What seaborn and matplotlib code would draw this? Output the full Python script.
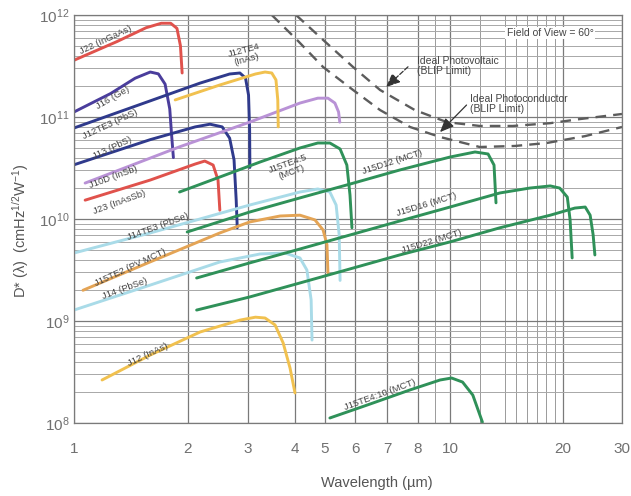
import numpy as np
import pandas as pd
import matplotlib
matplotlib.use("Agg")
import matplotlib.pyplot as plt
import seaborn as sns
from matplotlib.ticker import FixedLocator, FixedFormatter, LogLocator, NullFormatter

# ---------------- data ----------------
j22_wl = [1.0, 1.3, 1.55, 1.7, 1.8, 1.87, 1.91, 1.93]
j22_d = [3.6e11, 5.5e11, 7.5e11, 8.3e11, 8.3e11, 7.4e11, 5.0e11, 2.7e11]

j16_wl = [1.0, 1.25, 1.45, 1.59, 1.67, 1.74, 1.79, 1.81, 1.83]
j16_d = [1.12e11, 1.7e11, 2.4e11, 2.76e11, 2.65e11, 2.1e11, 1.2e11, 6.7e10, 4.0e10]

j12te3_wl = [1.0, 1.59, 2.17, 2.65, 2.84, 2.95, 3.01, 3.03, 3.035]
j12te3_d = [7.8e10, 1.44e11, 2.15e11, 2.64e11, 2.7e11, 2.41e11, 1.64e11, 7.5e10, 3.2e10]

j13_wl = [1.0, 1.59, 2.10, 2.32, 2.52, 2.65, 2.73, 2.77, 2.79]
j13_d = [3.4e10, 6.0e10, 8.0e10, 8.5e10, 8.0e10, 6.2e10, 3.8e10, 1.53e10, 8.2e9]

j10d_wl = [1.07, 1.90, 3.03, 4.15, 4.74, 5.09, 5.31, 5.43, 5.47]
j10d_d = [2.25e10, 5.1e10, 8.9e10, 1.37e11, 1.53e11, 1.53e11, 1.37e11, 1.12e11, 8.9e10]

j23_wl = [1.07, 1.59, 2.10, 2.24, 2.37, 2.45, 2.48]
j23_d = [1.53e10, 2.41e10, 3.46e10, 3.7e10, 3.38e10, 2.41e10, 1.22e10]

j12te4_wl = [1.85, 2.48, 3.14, 3.33, 3.47, 3.56, 3.60, 3.61]
j12te4_d = [1.47e11, 2.06e11, 2.64e11, 2.76e11, 2.7e11, 2.31e11, 1.47e11, 8.0e10]

j14te3_wl = [1.0, 1.59, 3.03, 4.15, 4.74, 5.15, 5.35, 5.45, 5.48]
j14te3_d = [4.64e9, 7.3e9, 1.37e10, 1.84e10, 1.97e10, 1.84e10, 1.37e10, 7.0e9, 2.5e9]

j15te2_wl = [1.056, 1.59, 2.48, 3.03, 3.65, 4.15, 4.64, 4.93, 5.06, 5.09]
j15te2_d = [2.0e9, 3.8e9, 7.3e9, 9.35e9, 1.07e10, 1.09e10, 9.8e9, 7.8e9, 5.6e9, 2.96e9]

j14_wl = [1.0, 1.59, 2.48, 3.23, 3.76, 4.15, 4.37, 4.51, 4.54]
j14_d = [1.28e9, 2.25e9, 3.79e9, 4.54e9, 4.64e9, 4.15e9, 3.16e9, 1.61e9, 6.5e8]

j12_wl = [1.186, 1.59, 2.17, 2.84, 3.14, 3.33, 3.54, 3.72, 3.88, 4.0]
j12_d = [2.64e8, 4.64e8, 7.8e8, 1.02e9, 1.09e9, 1.07e9, 9.15e8, 6.1e8, 3.46e8, 1.97e8]

j15te4_5_wl = [1.90, 2.48, 3.23, 4.15, 4.74, 5.15, 5.48, 5.71, 5.82, 5.89]
j15te4_5_d = [1.84e10, 2.58e10, 3.62e10, 4.97e10, 5.56e10, 5.56e10, 4.86e10, 3.38e10, 1.72e10, 8.2e9]

j15d12_wl = [1.99, 3.03, 4.15, 5.82, 7.39, 10.0, 11.66, 12.63, 13.1, 13.26]
j15d12_d = [7.46e9, 1.17e10, 1.61e10, 2.2e10, 3.02e10, 4.05e10, 4.54e10, 4.34e10, 3.38e10, 1.44e10]

j15d16_wl = [2.12, 3.03, 4.15, 5.82, 7.39, 10.0, 13.58, 16.3, 18.5, 19.6, 20.6, 21.0, 21.3]
j15d16_d = [2.64e9, 3.71e9, 5.08e9, 6.97e9, 9.55e9, 1.31e10, 1.8e10, 2.01e10, 2.11e10, 2.01e10, 1.64e10, 9.8e9, 4.15e9]

j15d22_wl = [2.12, 3.03, 4.15, 5.82, 7.39, 10.0, 13.58, 18.5, 21.7, 23.3, 24.1, 24.6, 24.9]
j15d22_d = [1.28e9, 1.72e9, 2.36e9, 3.24e9, 4.44e9, 5.96e9, 8.2e9, 1.09e10, 1.28e10, 1.31e10, 1.09e10, 7.0e9, 4.44e9]

j15te4_10_wl = [5.15, 6.44, 7.73, 9.33, 10.1, 10.8, 11.5, 12.2]
j15te4_10_d = [1.12e8, 1.53e8, 2.11e8, 2.64e8, 2.76e8, 2.52e8, 1.88e8, 1.02e8]

blip_pv_wl = [4.03, 4.93, 5.93, 6.77, 7.89, 9.79, 12.0, 14.7, 18.5, 22.5, 30.0]
blip_pv_d = [1.0e12, 5.7e11, 3.09e11, 1.84e11, 1.17e11, 8.9e10, 8.17e10, 8.17e10, 8.7e10, 9.55e10, 1.07e11]

blip_pc_wl = [3.47, 4.06, 4.93, 5.93, 6.77, 7.73, 9.33, 12.0, 14.9, 18.1, 23.3, 30.0]
blip_pc_d = [1.0e12, 5.7e11, 3.09e11, 1.84e11, 1.17e11, 7.98e10, 6.37e10, 5.08e10, 5.2e10, 5.56e10, 6.5e10, 7.98e10]

x_ticks = [1, 2, 3, 4, 5, 6, 7, 8, 10, 20, 30]
x_tick_labels = ["1", "2", "3", "4", "5", "6", "7", "8", "10", "20", "30"]
x_minor_grid = [9, 12, 14, 15, 16, 17, 18, 19]

# ---------------- styling ----------------
RED = "#e0524c"
VIOLET = "#4a3d9c"
NAVY = "#2f3a8c"
PURPLE = "#b992d6"
YELLOW = "#f1c14f"
ORANGE = "#e4a455"
LBLUE = "#a9dbe8"
GREEN = "#2f9159"
DASH = "#5c5c5c"
TXT = "#444444"

sns.set_theme(style="white")
plt.rcParams["font.family"] = ["Liberation Sans", "DejaVu Sans"]
plt.rcParams["mathtext.fontset"] = "custom"
plt.rcParams["mathtext.rm"] = "Liberation Sans"
plt.rcParams["mathtext.it"] = "Liberation Sans:italic"
plt.rcParams["mathtext.default"] = "rm"

# the printed wavelength axis is a slightly warped logarithmic axis
_kw = np.log10(np.array(x_ticks, float))
_kp = np.array([0, 114, 174, 221, 251, 281, 313, 344, 376, 489, 548], float)


def _fwd(x):
    lx = np.log10(np.clip(np.asarray(x, float), 1e-6, None))
    out = np.interp(lx, _kw, _kp)
    out = np.where(lx < _kw[0], _kp[0] + (lx - _kw[0]) * 375.0, out)
    out = np.where(lx > _kw[-1], _kp[-1] + (lx - _kw[-1]) * 335.0, out)
    return out


def _inv(p):
    p = np.asarray(p, float)
    lx = np.interp(p, _kp, _kw)
    lx = np.where(p < _kp[0], _kw[0] + (p - _kp[0]) / 375.0, lx)
    lx = np.where(p > _kp[-1], _kw[-1] + (p - _kp[-1]) / 335.0, lx)
    return 10 ** lx


fig = plt.figure(figsize=(6.31, 4.96), dpi=100)
ax = fig.add_axes([74 / 631, (496 - 423) / 496, 548 / 631, 408 / 496])
ax.set_xscale("function", functions=(_fwd, _inv))
ax.set_yscale("log")
ax.set_xlim(1, 30)
ax.set_ylim(1e8, 1e12)

ax.xaxis.set_major_locator(FixedLocator(x_ticks))
ax.xaxis.set_major_formatter(FixedFormatter(x_tick_labels))
ax.xaxis.set_minor_locator(FixedLocator(x_minor_grid))
ax.xaxis.set_minor_formatter(NullFormatter())
ax.yaxis.set_major_locator(LogLocator(base=10))
ax.yaxis.set_minor_locator(LogLocator(base=10, subs=range(2, 10)))
ax.yaxis.set_minor_formatter(NullFormatter())

ax.set_axisbelow(True)
ax.grid(True, which="major", axis="both", color="#7a7a7a", lw=0.9)
ax.grid(True, which="minor", axis="y", color="#a8a8a8", lw=0.7)
ax.grid(True, which="minor", axis="x", color="#9a9a9a", lw=0.7)
for s in ax.spines.values():
    s.set_color("#7a7a7a")
    s.set_linewidth(0.9)
ax.tick_params(which="both", length=0, labelcolor="#707070", labelsize=11)
ax.tick_params(axis="x", pad=14)
ax.tick_params(axis="y", pad=3)

curves = [
    (j22_wl, j22_d, RED),
    (j16_wl, j16_d, VIOLET),
    (j12te3_wl, j12te3_d, NAVY),
    (j13_wl, j13_d, NAVY),
    (j10d_wl, j10d_d, PURPLE),
    (j23_wl, j23_d, RED),
    (j12te4_wl, j12te4_d, YELLOW),
    (j14te3_wl, j14te3_d, LBLUE),
    (j15te2_wl, j15te2_d, ORANGE),
    (j14_wl, j14_d, LBLUE),
    (j12_wl, j12_d, YELLOW),
    (j15te4_5_wl, j15te4_5_d, GREEN),
    (j15d12_wl, j15d12_d, GREEN),
    (j15d16_wl, j15d16_d, GREEN),
    (j15d22_wl, j15d22_d, GREEN),
    (j15te4_10_wl, j15te4_10_d, GREEN),
]
for wl, d, col in curves:
    sns.lineplot(x=wl, y=d, ax=ax, color=col, lw=2.1, estimator=None,
                 sort=False, legend=False, solid_joinstyle="round",
                 solid_capstyle="round")

for wl, d in [(blip_pv_wl, blip_pv_d), (blip_pc_wl, blip_pc_d)]:
    sns.lineplot(x=wl, y=d, ax=ax, color=DASH, lw=1.7, estimator=None,
                 sort=False, legend=False, linestyle=(0, (4.5, 3)))

labels = [
    ("J22 (InGaAs)", 1.21, 5.7e11, 25),
    ("J16 (Ge)", 1.27, 1.53e11, 30),
    ("J12TE3 (PbS)", 1.245, 8.5e10, 25),
    ("J13 (PbS)", 1.26, 4.97e10, 25),
    ("J10D (InSb)", 1.27, 2.58e10, 20),
    ("J23 (InAsSb)", 1.32, 1.47e10, 20),
    ("J12TE4\n(InAs)", 2.94, 4.05e11, 15),
    ("J14TE3 (PbSe)", 1.67, 8.5e9, 20),
    ("J15TE2 (PV MCT)", 1.41, 3.38e9, 25),
    ("J14 (PbSe)", 1.36, 2.06e9, 20),
    ("J12 (InAs)", 1.57, 4.64e8, 25),
    ("J15TE4:5\n(MCT)", 3.88, 3.16e10, 20),
    ("J15D12 (MCT)", 7.15, 3.62e10, 18),
    ("J15D16 (MCT)", 8.51, 1.37e10, 17),
    ("J15D22 (MCT)", 8.81, 6.08e9, 17),
    ("J15TE4:10 (MCT)", 6.77, 1.88e8, 20),
]
for s, x, y, r in labels:
    ax.text(x, y, s, rotation=r, ha="center", va="center", fontsize=6.8,
            color=TXT, rotation_mode="anchor", linespacing=1.0)

ax.text(7.96, 3.16e11, "Ideal Photovoltaic\n(BLIP Limit)", ha="left",
        va="center", fontsize=7.5, color=TXT, linespacing=1.1)
ax.text(11.3, 1.34e11, "Ideal Photoconductor\n(BLIP Limit)", ha="left",
        va="center", fontsize=7.5, color=TXT, linespacing=1.1)
ax.annotate("", xy=(6.9, 1.88e11), xytext=(7.73, 3.24e11),
            arrowprops=dict(arrowstyle="-|>,head_length=0.7,head_width=0.3",
                            color="#333333", lw=0.9, ls="--"))
ax.annotate("", xy=(9.2, 6.8e10), xytext=(11.2, 1.37e11),
            arrowprops=dict(arrowstyle="-|>,head_length=0.7,head_width=0.3",
                            color="#333333", lw=0.9))
ax.text(18.5, 6.67e11, "Field of View = 60°", ha="center", va="center",
        fontsize=7.5, color=TXT,
        bbox=dict(facecolor="white", edgecolor="none", pad=1.0))

ax.set_xlabel("Wavelength (µm)", fontsize=10.5, color="#555555")
ax.set_ylabel("D* (λ)  (cmHz$^{1/2}$W$^{-1}$)", fontsize=10.5, color="#555555")
ax.xaxis.set_label_coords(0.553, -0.13)
ax.yaxis.set_label_coords(-0.078, 0.47)

fig.savefig("out.png", dpi=100)
